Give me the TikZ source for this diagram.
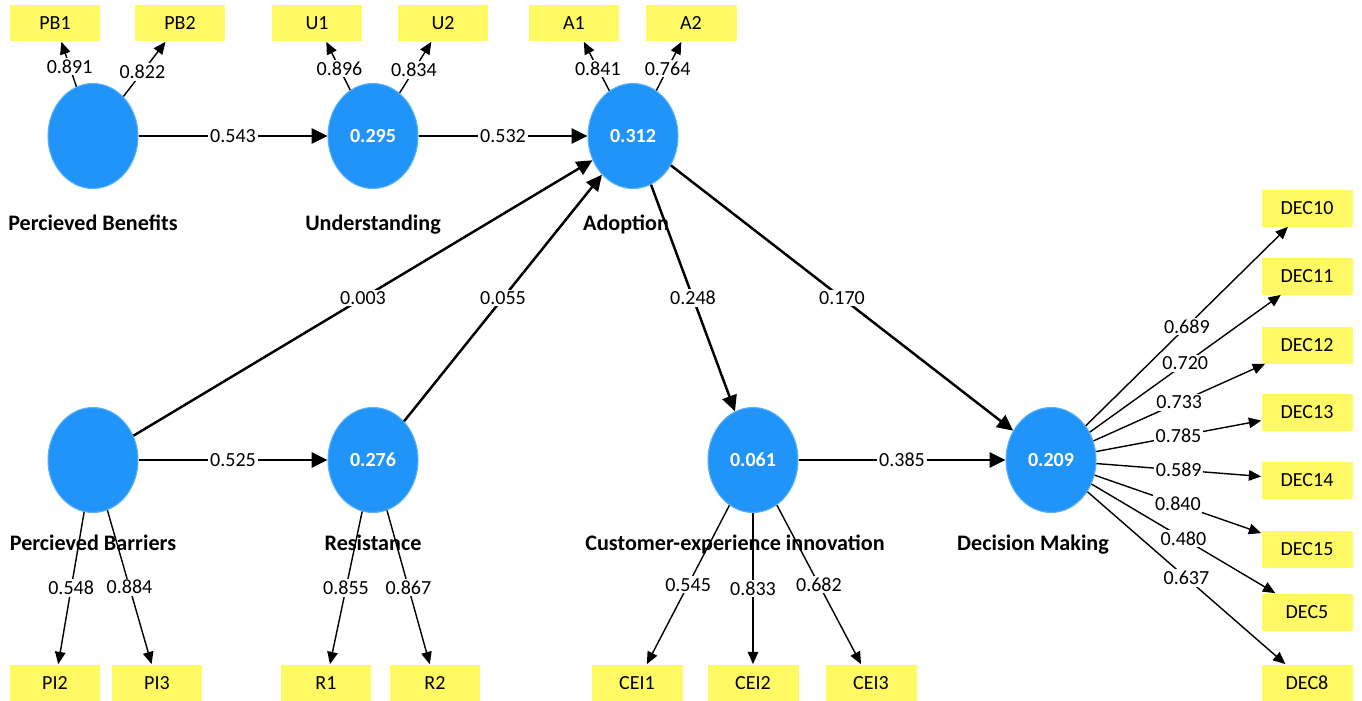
\documentclass[tikz,border=0pt]{standalone}
\usepackage{fontspec}
\setmainfont{Carlito}
\usetikzlibrary{positioning,arrows.meta,shapes.geometric}
\definecolor{lvblue}{RGB}{33,148,250}
\definecolor{mvyellow}{RGB}{255,250,100}
\tikzset{
  lv/.style={ellipse,fill=lvblue,draw=lvblue!75!white,line width=0.6pt,
    minimum width=1.8cm,minimum height=2.1cm,inner sep=0pt,
    text=white,font=\bfseries\fontsize{11.4}{13}\selectfont},
  mv/.style={rectangle,fill=mvyellow,minimum width=1.82cm,minimum height=0.74cm,
    inner sep=0pt,font=\fontsize{11.4}{13}\selectfont},
  lvname/.style={inner sep=0pt,font=\bfseries\fontsize{12.6}{15}\selectfont},
  coef/.style={fill=white,inner sep=1pt,font=\fontsize{11.4}{13}\selectfont},
  strpath/.style={line width=1.4pt,-{Triangle[length=9pt,width=8.5pt]}},
  loadpath/.style={line width=0.8pt,-{Triangle[length=7pt,width=6pt]}}
}
\begin{document}
\begin{tikzpicture}[x=0.02cm,y=-0.02cm]
\useasboundingbox (0,0) rectangle (1362,700);

% construtos
\node[lv] (pb) at (93,136) {};
\node[lv] (un) at (373,136) {0.295};
\node[lv] (ad) at (633,136) {0.312};
\node[lv] (pba) at (93,460) {};
\node[lv] (re) at (373,460) {0.276};
\node[lv] (cei) at (753,460) {0.061};
\node[lv] (dm) at (1051,460) {0.209};

% nomes
\node[lvname,below=0.52cm of pb] (pbname) {Percieved Benefits};
\node[lvname,below=0.52cm of un] (unname) {Understanding};
\node[lvname,below=0.52cm of ad,xshift=-0.14cm] (adname) {Adoption};
\node[lvname,below=0.44cm of pba] (pbaname) {Percieved Barriers};
\node[lvname,below=0.44cm of re] (rename) {Resistance};
\node[lvname,below=0.44cm of cei,xshift=-0.36cm] (ceiname) {Customer-experience innovation};
\node[lvname,below=0.44cm of dm,xshift=-0.36cm] (dmname) {Decision Making};

% indicadores
\node[mv] (pb1) at (55,23) {PB1};
\node[mv] (pb2) at (180,23) {PB2};
\node[mv] (u1) at (317,23) {U1};
\node[mv] (u2) at (443,23) {U2};
\node[mv] (a1) at (574,23) {A1};
\node[mv] (a2) at (691,23) {A2};
\node[mv] (pi2) at (55,683) {PI2};
\node[mv] (pi3) at (157,683) {PI3};
\node[mv] (r1) at (326,683) {R1};
\node[mv] (r2) at (435,683) {R2};
\node[mv] (cei1) at (637,683) {CEI1};
\node[mv] (cei2) at (753,683) {CEI2};
\node[mv] (cei3) at (871,683) {CEI3};

% modelo estrutural
\draw[strpath] (pb) -- node[coef] {0.543} (un);
\draw[strpath] (un) -- node[coef] {0.532} (ad);
\draw[strpath] (pba) -- node[coef] {0.003} (ad);
\draw[strpath] (pba) -- node[coef] {0.525} (re);
\draw[strpath] (re) -- node[coef] {0.055} (ad);
\draw[strpath] (ad) -- node[coef] {0.248} (cei);
\draw[strpath] (ad) -- node[coef] {0.170} (dm);
\draw[strpath] (cei) -- node[coef] {0.385} (dm);

% cargas
\draw[loadpath] (pb) -- node[coef,pos=0.45] {0.891} (pb1);
\draw[loadpath] (pb) -- node[coef,pos=0.45] {0.822} (pb2);
\draw[loadpath] (un) -- node[coef,pos=0.45] {0.896} (u1);
\draw[loadpath] (un) -- node[coef,pos=0.45] {0.834} (u2);
\draw[loadpath] (ad) -- node[coef,pos=0.45] {0.841} (a1);
\draw[loadpath] (ad) -- node[coef,pos=0.45] {0.764} (a2);
\draw[loadpath] (pba) -- node[coef] {0.548} (pi2);
\draw[loadpath] (pba) -- node[coef] {0.884} (pi3);
\draw[loadpath] (re) -- node[coef] {0.855} (r1);
\draw[loadpath] (re) -- node[coef] {0.867} (r2);
\draw[loadpath] (cei) -- node[coef] {0.545} (cei1);
\draw[loadpath] (cei) -- node[coef] {0.833} (cei2);
\draw[loadpath] (cei) -- node[coef] {0.682} (cei3);

\foreach \n/\y/\w in {10/208/0.689,11/276/0.720,12/345/0.733,13/412/0.785,
                     14/480/0.589,15/549/0.840,5/612/0.480,8/683/0.637}{
  \node[mv] (dec\n) at (1307,\y) {DEC\n};
  \draw[loadpath] (dm) -- node[coef] {\w} (dec\n);
}

\end{tikzpicture}
\end{document}
